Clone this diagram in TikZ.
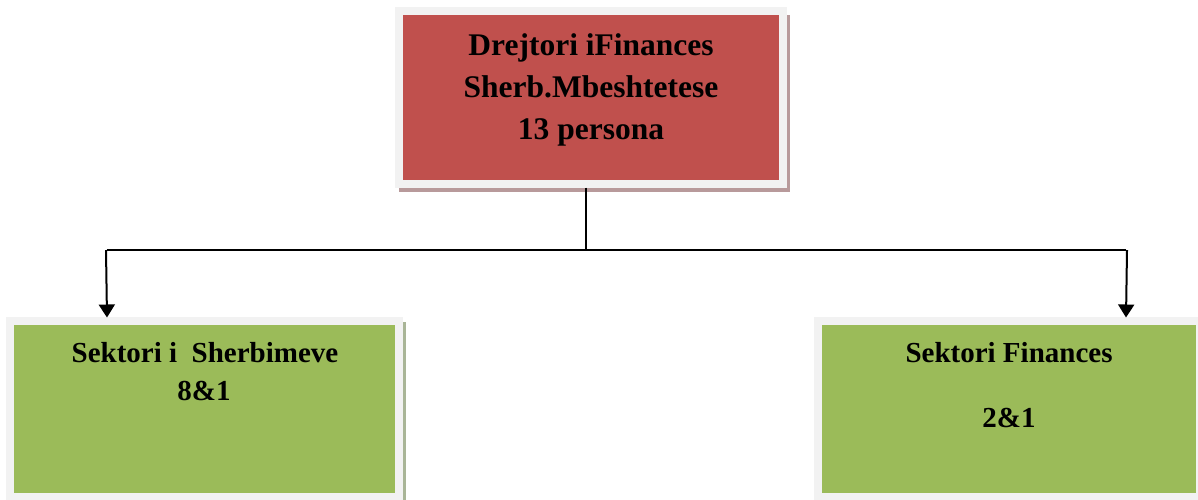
\documentclass[tikz,border=0pt]{standalone}
\usepackage{fontspec}
\setmainfont{Liberation Serif}
\usetikzlibrary{arrows.meta,calc}

\definecolor{headred}{HTML}{C0504D}
\definecolor{unitgreen}{HTML}{9BBB59}
\definecolor{framegray}{HTML}{F2F2F2}
\definecolor{redshadow}{HTML}{B89A9B}
\definecolor{greenshadow}{HTML}{A9B597}

\tikzset{
  orgbox/.style={rectangle, draw=framegray, line width=8pt, inner sep=0pt, outer sep=0pt},
  headbox/.style={orgbox, fill=headred},
  unitbox/.style={orgbox, fill=unitgreen},
  headtext/.style={font=\fontsize{31.5}{40}\selectfont\bfseries, inner sep=0pt, anchor=base},
  unittext/.style={font=\fontsize{29}{36}\selectfont\bfseries, inner sep=0pt, anchor=base},
  link/.style={line width=2pt, draw=black},
  arrowlink/.style={link, -{Triangle[width=16pt,length=13pt]}}
}

\begin{document}
\begin{tikzpicture}[x=1pt,y=-1pt]
  \useasboundingbox (0,0) rectangle (1198,499);
  \fill[white] (0,0) rectangle (1198,499);

  % drop shadows behind the boxes
  \fill[redshadow] (399,15) rectangle (790,192);
  \fill[greenshadow] (403,322) rectangle (406,505);

  % boxes
  \node[headbox, minimum width=384pt, minimum height=172.5pt] (head) at (591,97.25) {};
  \node[unitbox, minimum width=389pt, minimum height=176pt] (left) at (204.5,408.5) {};
  \node[unitbox, minimum width=382pt, minimum height=176pt] (right) at (1009,408.5) {};

  % labels
  \node[headtext] (h1) at (591,55) {Drejtori iFinances};
  \node[headtext] (h2) at (591,97) {Sherb.Mbeshtetese};
  \node[headtext] (h3) at (591,139) {13 persona};

  \node[unittext] (l1) at (205,362) {Sektori i\ \ Sherbimeve};
  \node[unittext] (l2) at (204,400) {8\&1};

  \node[unittext] (r1) at (1009,362) {Sektori Finances};
  \node[unittext] (r2) at (1009,427) {2\&1};

  % connectors
  \coordinate (fork) at (586,250);
  \coordinate (leftbend) at (107,250);
  \coordinate (rightbend) at (1126,250);
  \draw[link] ([xshift=-5pt,yshift=-4pt]head.south) -- (fork);
  \draw[link] (leftbend) -- (rightbend);
  \draw[arrowlink] ([xshift=-1pt]leftbend) -- ([yshift=3pt]leftbend |- left.north);
  \draw[arrowlink] ([xshift=1pt]rightbend) -- ([yshift=3pt]rightbend |- right.north);
\end{tikzpicture}
\end{document}
